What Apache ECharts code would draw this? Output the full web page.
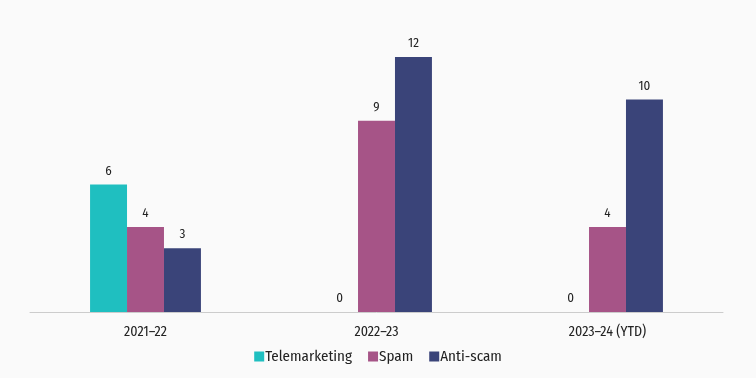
<!DOCTYPE html>
<html><head><meta charset="utf-8">
<script src="https://cdn.jsdelivr.net/npm/echarts@6/dist/echarts.min.js"></script>
<style>html,body{margin:0;padding:0;background:#fafafa}#c{width:756px;height:378px}</style>
</head><body><div id="c"></div>
<script>
const categories = ['2021–22', '2022–23', '2023–24 (YTD)'];
const telemarketing = [6, 0, 0];
const spam = [4, 9, 4];
const antiScam = [3, 12, 10];

const chart = echarts.init(document.getElementById('c'));
const font = '"Fira Sans Condensed", "Noto Sans", sans-serif';
const label = {show: true, position: 'top', distance: 7, color: '#222', fontSize: 13, fontFamily: font};
chart.setOption({
  backgroundColor: '#fafafa',
  animation: false,
  grid: {left: 30, right: 33, top: 57, bottom: 66},
  xAxis: {
    type: 'category', data: categories,
    axisLine: {lineStyle: {color: '#cccccc'}},
    axisTick: {show: false},
    axisLabel: {color: '#222', fontSize: 14, fontFamily: font, margin: 13}
  },
  yAxis: {type: 'value', min: 0, max: 12, show: false, splitLine: {show: false}},
  legend: {
    bottom: 9, left: 'center', itemWidth: 10, itemHeight: 10, itemGap: 16,
    icon: 'rect',
    textStyle: {color: '#222', fontSize: 15, fontFamily: font, padding: [0,0,0,-4]}
  },
  series: [
    {name: 'Telemarketing', type: 'bar', data: telemarketing, barWidth: '16%', barGap: '0%', itemStyle: {color: '#1fbfc0'}, label},
    {name: 'Spam', type: 'bar', data: spam, barWidth: '16%', barGap: '0%', itemStyle: {color: '#a65487'}, label},
    {name: 'Anti-scam', type: 'bar', data: antiScam, barWidth: '16%', barGap: '0%', itemStyle: {color: '#3a4479'}, label}
  ]
});
</script></body></html>
